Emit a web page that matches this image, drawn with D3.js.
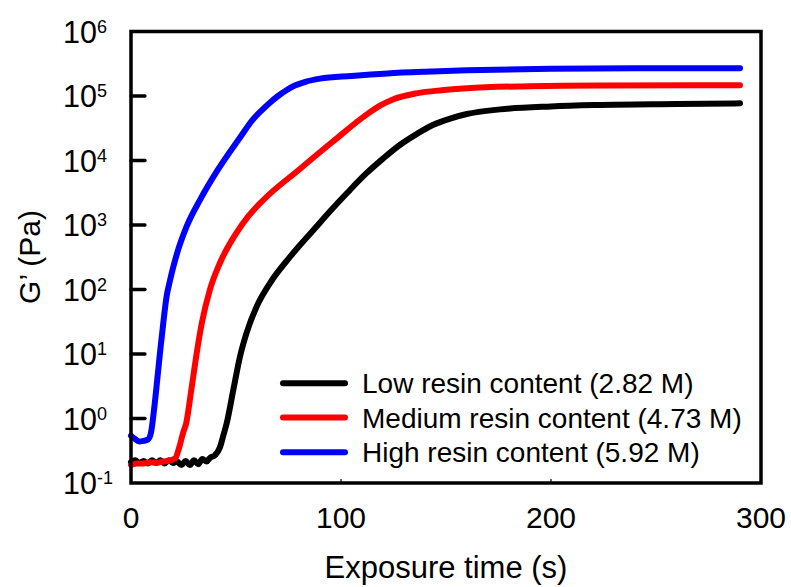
<!DOCTYPE html>
<html>
<head>
<meta charset="utf-8">
<script src="https://cdn.jsdelivr.net/npm/d3@7"></script>
<style>
  body { margin: 0; background: #fff; }
  svg { display: block; font-family: "Liberation Sans", Arial, sans-serif; }
</style>
</head>
<body>
<svg id="chart" width="791" height="587"></svg>
<script>
// data (time in s, G' in Pa)
const lowTime = [0, 2, 4, 6, 8, 10, 12, 14, 16, 18, 20, 22, 24, 26, 28, 30, 32, 34, 36, 37.6, 40, 42.4, 44, 45.6, 48.7, 51.9, 55, 59.8, 66.2, 75.7, 80.5, 86.8, 95, 103, 112, 120, 128, 136, 143.7, 152, 159.9, 175.7, 200, 223, 260, 290];
const lowG = [0.21, 0.225, 0.205, 0.22, 0.2, 0.225, 0.205, 0.225, 0.2, 0.225, 0.205, 0.215, 0.19, 0.22, 0.19, 0.225, 0.195, 0.235, 0.215, 0.245, 0.27, 0.36, 0.55, 0.85, 2.75, 9.1, 21, 54, 126, 320, 490, 830, 1660, 3160, 6300, 10700, 17400, 25700, 35500, 44700, 52500, 62000, 69000, 72500, 75000, 77000];

const medTime = [0, 3, 6, 9, 12, 15, 18, 21, 23, 24.8, 26.3, 28.7, 31, 33.7, 37.6, 42.4, 50.3, 56, 62.8, 80, 96, 112, 119, 125, 136, 148, 160, 190, 223, 290];
const medG = [0.19, 0.2, 0.2, 0.21, 0.205, 0.215, 0.22, 0.24, 0.36, 0.6, 0.85, 2.75, 9, 30, 100, 260, 760, 1380, 2400, 7200, 19500, 51000, 72000, 89000, 110000, 123000, 132000, 142000, 146000, 147000];

const highTime = [0, 2, 4, 6, 8, 9.5, 11, 12.5, 14, 15.5, 17, 18.5, 20, 22, 26.5, 33, 41, 52, 58, 62, 66, 70, 74, 78, 83, 90, 105, 122, 140, 160, 200, 240, 290];
const highG = [0.54, 0.48, 0.44, 0.45, 0.47, 0.6, 1.4, 4, 12, 33, 80, 135, 215, 370, 950, 2500, 6900, 23000, 43000, 59000, 78000, 100000, 123000, 145000, 166000, 186000, 205000, 224000, 238000, 250000, 265000, 270000, 270000];

const seriesNames = ["Low resin content (2.82 M)", "Medium resin content (4.73 M)", "High resin content (5.92 M)"];
const seriesColors = ["#000000", "#ff0000", "#0000ff"];
const xTicks = [0, 100, 200, 300];
const yExponents = [-1, 0, 1, 2, 3, 4, 5, 6];

const series = [
  { name: seriesNames[0], color: seriesColors[0], t: lowTime, g: lowG },
  { name: seriesNames[1], color: seriesColors[1], t: medTime, g: medG },
  { name: seriesNames[2], color: seriesColors[2], t: highTime, g: highG }
];

const svg = d3.select("#chart");
const plotLeft = 131, plotRight = 761, plotTop = 31.5, plotBottom = 483;

const x = d3.scaleLinear().domain([0, 300]).range([plotLeft, plotRight]);
const y = d3.scaleLog().domain([0.1, 1e6]).range([plotBottom, plotTop]);

// curves
const line = d3.line()
  .x(d => x(d[0]))
  .y(d => y(d[1]))
  .curve(d3.curveMonotoneX);

series.forEach(s => {
  const pts = s.t.map((t, i) => [t, s.g[i]]);
  svg.append("path")
    .attr("d", line(pts))
    .attr("fill", "none")
    .attr("stroke", s.color)
    .attr("stroke-width", 6)
    .attr("stroke-linecap", "round")
    .attr("stroke-linejoin", "round");
});

// frame
svg.append("rect")
  .attr("x", plotLeft).attr("y", plotTop)
  .attr("width", plotRight - plotLeft).attr("height", plotBottom - plotTop)
  .attr("fill", "none").attr("stroke", "#000").attr("stroke-width", 3.5);

// y ticks (inside)
yExponents.slice(1, -1).forEach(e => {
  svg.append("line")
    .attr("x1", plotLeft).attr("x2", plotLeft + 14)
    .attr("y1", y(Math.pow(10, e))).attr("y2", y(Math.pow(10, e)))
    .attr("stroke", "#000").attr("stroke-width", 3.3).attr("stroke-linecap", "round");
});

// y tick labels 10^n
yExponents.forEach(e => {
  const yy = y(Math.pow(10, e));
  svg.append("text")
    .attr("x", 97).attr("y", yy + 11)
    .attr("text-anchor", "end")
    .attr("font-size", 30.5)
    .text("10");
  svg.append("text")
    .attr("x", 97).attr("y", yy + 1)
    .attr("font-size", 18)
    .text(e);
});

// x ticks (tiny, inside)
xTicks.slice(1, -1).forEach(v => {
  svg.append("line")
    .attr("x1", x(v)).attr("x2", x(v))
    .attr("y1", plotBottom).attr("y2", plotBottom - 4)
    .attr("stroke", "#000").attr("stroke-width", 1.2);
});

svg.selectAll(".xlab")
  .data(xTicks)
  .enter()
  .append("text")
  .attr("x", d => x(d))
  .attr("y", 528)
  .attr("text-anchor", "middle")
  .attr("font-size", 30)
  .text(d => d);

// axis titles
svg.append("text")
  .attr("x", 446).attr("y", 578)
  .attr("text-anchor", "middle")
  .attr("font-size", 31)
  .text("Exposure time (s)");

svg.append("text")
  .attr("transform", "translate(40,257) rotate(-90)")
  .attr("text-anchor", "middle")
  .attr("font-size", 30)
  .text("G\u2019 (Pa)");

// legend
const legendY = [383.3, 417.5, 452.3];
series.forEach((s, i) => {
  svg.append("line")
    .attr("x1", 283).attr("x2", 345)
    .attr("y1", legendY[i]).attr("y2", legendY[i])
    .attr("stroke", s.color).attr("stroke-width", 6).attr("stroke-linecap", "round");
  svg.append("text")
    .attr("x", 362).attr("y", legendY[i] + 10)
    .attr("font-size", 28)
    .text(s.name);
});
</script>
</body>
</html>
